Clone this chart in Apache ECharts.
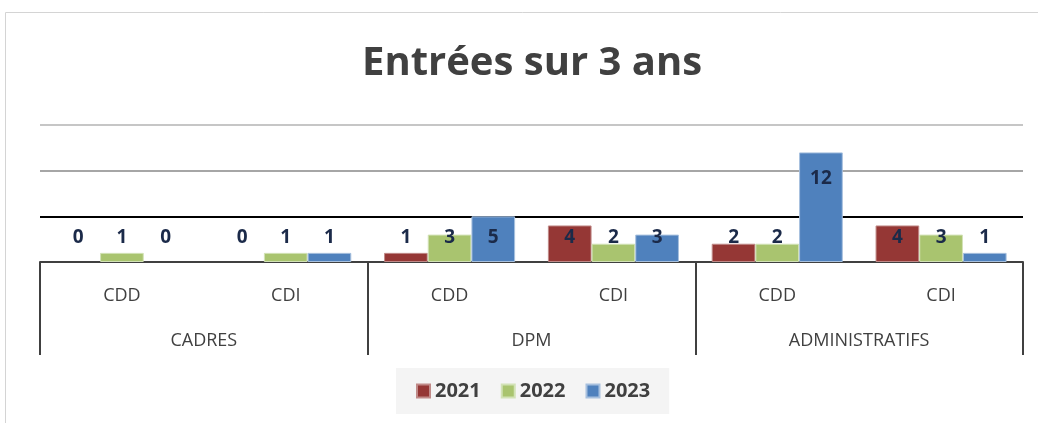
<!DOCTYPE html>
<html>
<head>
<meta charset="utf-8">
<script src="https://cdn.jsdelivr.net/npm/echarts@6/dist/echarts.min.js"></script>
<style>
  html, body { margin: 0; padding: 0; background: #fff; }
  #main { width: 1038px; height: 423px; }
</style>
</head>
<body>
<div id="main"></div>
<script>
var myChart = echarts.init(document.getElementById('main'));

// catégories : sous-niveau (contrat) et niveau principal (population)
var contrats = ['CDD', 'CDI', 'CDD', 'CDI', 'CDD', 'CDI'];
var populations = ['CADRES', 'DPM', 'ADMINISTRATIFS'];
var annees = ['2021', '2022', '2023'];

// valeurs par année
var v2021 = [0, 0, 1, 4, 2, 4];
var v2022 = [1, 1, 3, 2, 2, 3];
var v2023 = [0, 1, 5, 3, 12, 1];

var couleurs = ['#953735', '#a9c46f', '#4f81bd'];
var bordures = ['#c08a88', '#d2e2b6', '#a7c0de'];
var police = "'Open Sans', sans-serif";

function serie(nom, valeurs, idx) {
    return {
        name: nom,
        type: 'bar',
        xAxisIndex: 0,
        barGap: '0%',
        barCategoryGap: '20%',
        itemStyle: { color: couleurs[idx], borderColor: bordures[idx], borderWidth: 1 },
        label: {
            show: true,
            position: 'insideBottom',
            distance: 15,
            color: '#1b2a49',
            fontWeight: 'bold',
            fontSize: 19,
            fontFamily: police
        },
        data: valeurs.map(function (v) {
            // la grande barre garde son étiquette en haut
            if (v >= 10) {
                return { value: v, label: { position: 'insideTop', distance: 17 } };
            }
            // pas de bordure pour une barre vide
            if (v === 0) {
                return { value: v, itemStyle: { borderWidth: 0 } };
            }
            return v;
        })
    };
}

option = {
    animation: false,
    backgroundColor: '#fff',
    graphic: [{
        type: 'rect',
        shape: { x: 5.5, y: 12.5, width: 1040, height: 420 },
        style: { fill: 'none', stroke: '#d4d4d4', lineWidth: 1 },
        silent: true
    }],
    title: {
        text: 'Entrées sur 3 ans',
        left: 357,
        top: 39,
        textStyle: { fontFamily: police, fontSize: 40, fontWeight: 'bold', color: '#404040' }
    },
    legend: {
        data: annees,
        left: 396,
        top: 368,
        padding: [13, 19, 13, 20],
        backgroundColor: '#f4f4f4',
        itemWidth: 13,
        itemHeight: 13,
        itemGap: 20,
        icon: 'rect',
        textStyle: { fontFamily: police, fontSize: 20, fontWeight: 'bold', color: '#404040' }
    },
    grid: { left: 40, right: 15, top: 125, bottom: 161, containLabel: false },
    xAxis: [
        {
            type: 'category',
            data: contrats,
            axisLine: { show: false },
            axisTick: { show: false },
            axisLabel: { margin: 25, fontFamily: police, fontSize: 18, color: '#404040' }
        },
        {
            type: 'category',
            data: populations,
            position: 'bottom',
            axisLine: { show: true, lineStyle: { color: '#404040', width: 2 } },
            axisTick: { show: true, length: 93, interval: 0, lineStyle: { color: '#404040', width: 2 } },
            axisLabel: { margin: 70, fontFamily: police, fontSize: 18, color: '#404040' }
        }
    ],
    yAxis: {
        type: 'value',
        min: 0,
        max: 15,
        interval: 5,
        axisLine: { show: false },
        axisTick: { show: false },
        axisLabel: { show: false },
        splitLine: { show: true, lineStyle: { color: ['#404040', '#000000', '#a6a6a6', '#c6c6c6'], width: 2 } }
    },
    series: [
        serie('2021', v2021, 0),
        serie('2022', v2022, 1),
        serie('2023', v2023, 2)
    ]
};

if (option && typeof option === "object") {
    myChart.setOption(option, true);
}
</script>
</body>
</html>
